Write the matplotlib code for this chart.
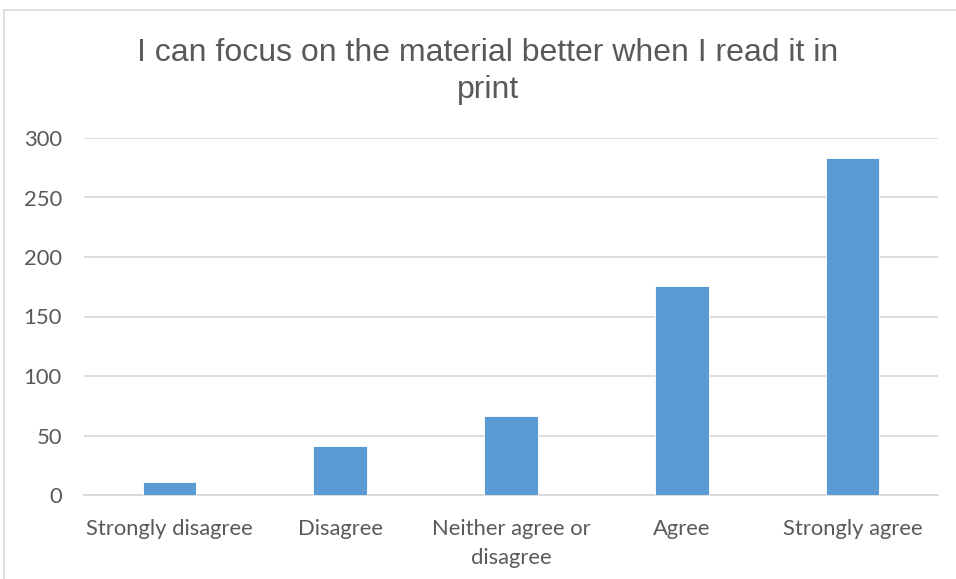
import matplotlib.pyplot as plt
from matplotlib.patches import Rectangle

categories = ["Strongly disagree", "Disagree", "Neither agree or\ndisagree", "Agree", "Strongly agree"]
counts = [11, 41, 66, 176, 283]
yticks = [0, 50, 100, 150, 200, 250, 300]

W, H = 956, 579
fig = plt.figure(figsize=(W / 100, H / 100), dpi=100)
ax = fig.add_axes([84 / W, 1 - 495 / H, (938 - 84) / W, (495 - 138) / H])

# outer chart border
fig.patches.append(Rectangle((4 / W, -0.01), 1.0, 1 - 10 / H + 0.01, transform=fig.transFigure,
                             fill=False, edgecolor="#d9d9d9", lw=1.2))

x = range(len(categories))
ax.bar(x, counts, width=0.314, color="#5b9bd5", edgecolor="white", linewidth=0.6, zorder=3)

ax.set_xlim(-0.5, len(categories) - 0.5)
ax.set_ylim(0, 300)
ax.set_yticks(yticks)
ax.set_xticks(list(x))
ax.set_xticklabels(categories, fontfamily="Lato", fontsize=15.8, color="#595959", linespacing=1.6)
ax.set_yticklabels([str(v) for v in yticks], fontfamily="Lato", fontsize=15.8, color="#595959")
ax.tick_params(axis="y", length=0, pad=16)
ax.tick_params(axis="x", length=0, pad=17)
ax.grid(axis="y", color="#d9d9d9", lw=1.3, zorder=0)
for side in ["top", "right", "left"]:
    ax.spines[side].set_visible(False)
ax.spines["bottom"].set_color("#d9d9d9")
ax.spines["bottom"].set_linewidth(1.3)

fig.text(488 / W, 1 - 53 / H, "I can focus on the material better when I read it in",
         ha="center", va="center", fontfamily="Liberation Sans", fontsize=23, color="#595959")
fig.text(488 / W, 1 - 90 / H, "print",
         ha="center", va="center", fontfamily="Liberation Sans", fontsize=23, color="#595959")

fig.savefig("out.png", dpi=100)
